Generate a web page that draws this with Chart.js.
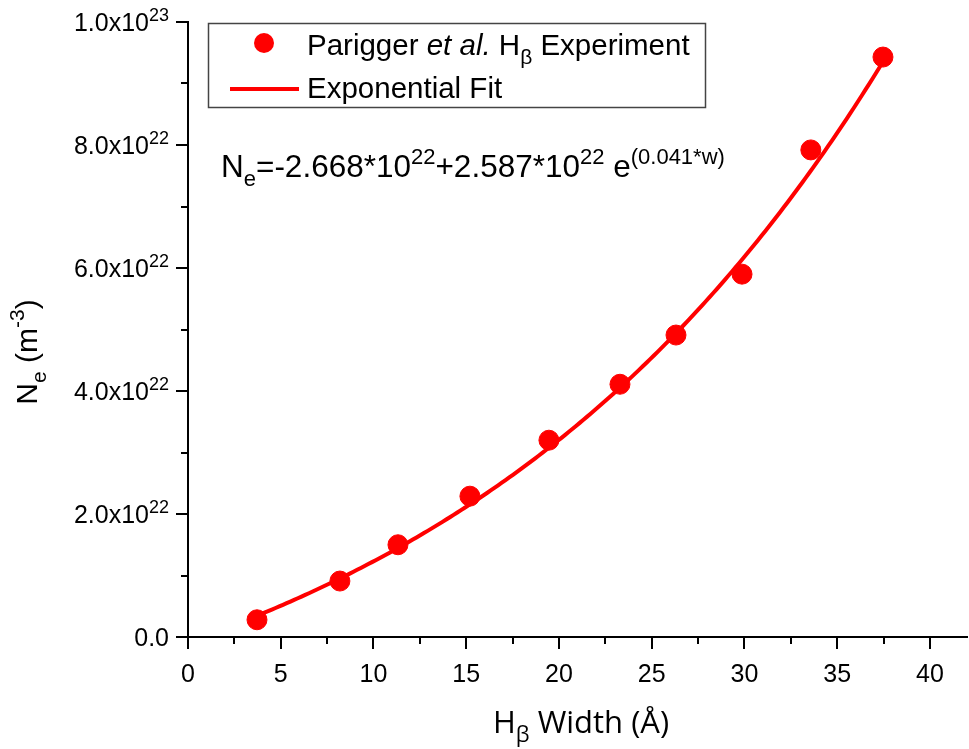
<!DOCTYPE html>
<html>
<head>
<meta charset="utf-8">
<title>Ne vs H-beta width</title>
<script src="https://cdn.jsdelivr.net/npm/chart.js@4.4.1/dist/chart.umd.min.js"></script>
<style>
  html, body { margin: 0; padding: 0; background: #fff; }
</style>
</head>
<body>
<canvas id="neChart" width="969" height="749"></canvas>
<script>
// H-beta widths (Angstrom) and electron densities (in 1e22 m^-3)
const widths = [3.72, 8.19, 11.32, 15.2, 19.46, 23.29, 26.31, 29.87, 33.58, 37.47];
const densities = [0.28, 0.91, 1.50, 2.29, 3.20, 4.11, 4.91, 5.90, 7.92, 9.43];

// exponential fit Ne = a + b*e^(c*w), a and b in 1e22
const fitCoef = [-2.668, 2.587, 0.041];
const fitRange = [3.72, 37.6];

const xTicks = [0, 5, 10, 15, 20, 25, 30, 35, 40];
const xMinor = [2.5, 7.5, 12.5, 17.5, 22.5, 27.5, 32.5, 37.5];
const yTicks = [0, 2, 4, 6, 8, 10];
const yMinor = [1, 3, 5, 7, 9];
const yTickLabels = [['0.0', ''], ['2.0x10', '22'], ['4.0x10', '22'], ['6.0x10', '22'], ['8.0x10', '22'], ['1.0x10', '23']];

const RED = '#ff0000';
const ARIAL = "'Liberation Sans', Arial, sans-serif";
const NARROW = "'Liberation Sans Narrow', 'Liberation Sans', sans-serif";

const points = widths.map((w, i) => ({ x: w, y: densities[i] }));
const fitPts = [];
for (let w = fitRange[0]; w <= fitRange[1] + 1e-9; w += 0.2) {
    fitPts.push({ x: w, y: fitCoef[0] + fitCoef[1] * Math.exp(fitCoef[2] * w) });
}

function partFont(p, size, family) {
    const small = p[1] === 'sub' || p[1] === 'sup';
    const s = small ? Math.round(size * 0.7) : size;
    return (p[1] === 'i' ? 'italic ' : '') + s + 'px ' + family;
}

// text with italic / sub / superscript pieces
function drawRich(ctx, parts, x, y, size, family, align) {
    let total = 0;
    parts.forEach(p => { ctx.font = partFont(p, size, family); total += ctx.measureText(p[0]).width; });
    let cx = align === 'right' ? x - total : align === 'center' ? x - total / 2 : x;
    ctx.textAlign = 'left';
    ctx.textBaseline = 'alphabetic';
    parts.forEach(p => {
        ctx.font = partFont(p, size, family);
        const dy = p[1] === 'sub' ? size * 0.3 : p[1] === 'sup' ? -size * 0.42 : 0;
        ctx.fillText(p[0], cx, y + dy);
        cx += ctx.measureText(p[0]).width;
    });
}

const axisText = {
    id: 'axisText',
    afterDraw(chart) {
        const ctx = chart.ctx;
        const xs = chart.scales.x, ys = chart.scales.y;
        const area = chart.chartArea;
        ctx.save();
        ctx.fillStyle = '#000';
        ctx.strokeStyle = '#000';
        ctx.lineWidth = 2;

        // minor ticks
        ctx.beginPath();
        xMinor.forEach(v => {
            const px = Math.round(xs.getPixelForValue(v));
            ctx.moveTo(px, area.bottom);
            ctx.lineTo(px, area.bottom + 7);
        });
        yMinor.forEach(v => {
            const py = Math.round(ys.getPixelForValue(v));
            ctx.moveTo(area.left, py);
            ctx.lineTo(area.left - 7, py);
        });
        ctx.stroke();

        // tick labels
        yTicks.forEach((v, i) => {
            const py = ys.getPixelForValue(v);
            const lab = yTickLabels[i];
            const parts = lab[1] ? [[lab[0], ''], [lab[1], 'sup']] : [[lab[0], '']];
            drawRich(ctx, parts, area.left - 19, py + 9, 25, ARIAL, 'right');
        });
        ctx.font = '25px ' + NARROW;
        ctx.textAlign = 'center';
        ctx.textBaseline = 'alphabetic';
        xTicks.forEach(v => {
            ctx.fillText(String(v), xs.getPixelForValue(v), area.bottom + 45);
        });

        // axis titles
        drawRich(ctx, [['H', ''], ['\u03b2', 'sub'], [' Width (\u00c5)', '']], 581, 733, 31, "'Open Sans', sans-serif", 'center');
        ctx.save();
        ctx.translate(37, 352);
        ctx.rotate(-Math.PI / 2);
        drawRich(ctx, [['N', ''], ['e', 'sub'], [' (m', ''], ['-3', 'sup'], [')', '']], 0, 0, 30, ARIAL, 'center');
        ctx.restore();

        // legend
        ctx.lineWidth = 1.5;
        ctx.strokeStyle = '#444';
        ctx.strokeRect(208.5, 23.5, 497, 84);
        ctx.fillStyle = RED;
        ctx.beginPath();
        ctx.arc(264, 43, 10, 0, Math.PI * 2);
        ctx.fill();
        ctx.strokeStyle = RED;
        ctx.lineWidth = 4;
        ctx.beginPath();
        ctx.moveTo(230, 89);
        ctx.lineTo(299, 89);
        ctx.stroke();
        ctx.fillStyle = '#000';
        drawRich(ctx, [['Parigger ', ''], ['et al.', 'i'], [' H', ''], ['\u03b2', 'sub'], [' Experiment', '']], 307, 55, 29.5, ARIAL, 'left');
        drawRich(ctx, [['Exponential Fit', '']], 307, 98, 29.5, ARIAL, 'left');

        // fit equation
        drawRich(ctx, [['N', ''], ['e', 'sub'], ['=-2.668*10', ''], ['22', 'sup'], ['+2.587*10', ''], ['22', 'sup'],
            [' e', ''], ['(0.041*w)', 'sup']], 221, 177, 31.5, ARIAL, 'left');
        ctx.restore();
    }
};

const axisGrid = { display: true, drawOnChartArea: false, drawTicks: true, tickLength: 12, lineWidth: 2, color: '#000' };
const axisBorder = { display: true, color: '#000', width: 2 };

new Chart(document.getElementById('neChart').getContext('2d'), {
    type: 'scatter',
    data: {
        datasets: [{
            label: 'Parigger et al. H\u03b2 Experiment',
            data: points,
            backgroundColor: RED,
            borderColor: RED,
            pointRadius: 10,
            order: 1
        }, {
            label: 'Exponential Fit',
            type: 'line',
            data: fitPts,
            borderColor: RED,
            borderWidth: 4,
            pointRadius: 0,
            fill: false,
            tension: 0,
            order: 2
        }]
    },
    options: {
        responsive: false,
        animation: false,
        layout: { autoPadding: false, padding: { top: 22, right: 2, left: 0, bottom: 0 } },
        plugins: { legend: { display: false }, tooltip: { enabled: false } },
        scales: {
            x: {
                type: 'linear', min: 0, max: 42,
                afterFit(s) { s.height = 112; },
                ticks: { display: false, stepSize: 5, includeBounds: false },
                grid: axisGrid,
                border: axisBorder
            },
            y: {
                type: 'linear', min: 0, max: 10,
                afterFit(s) { s.width = 188; },
                ticks: { display: false, stepSize: 2 },
                grid: axisGrid,
                border: axisBorder
            }
        }
    },
    plugins: [axisText]
});
</script>
</body>
</html>
